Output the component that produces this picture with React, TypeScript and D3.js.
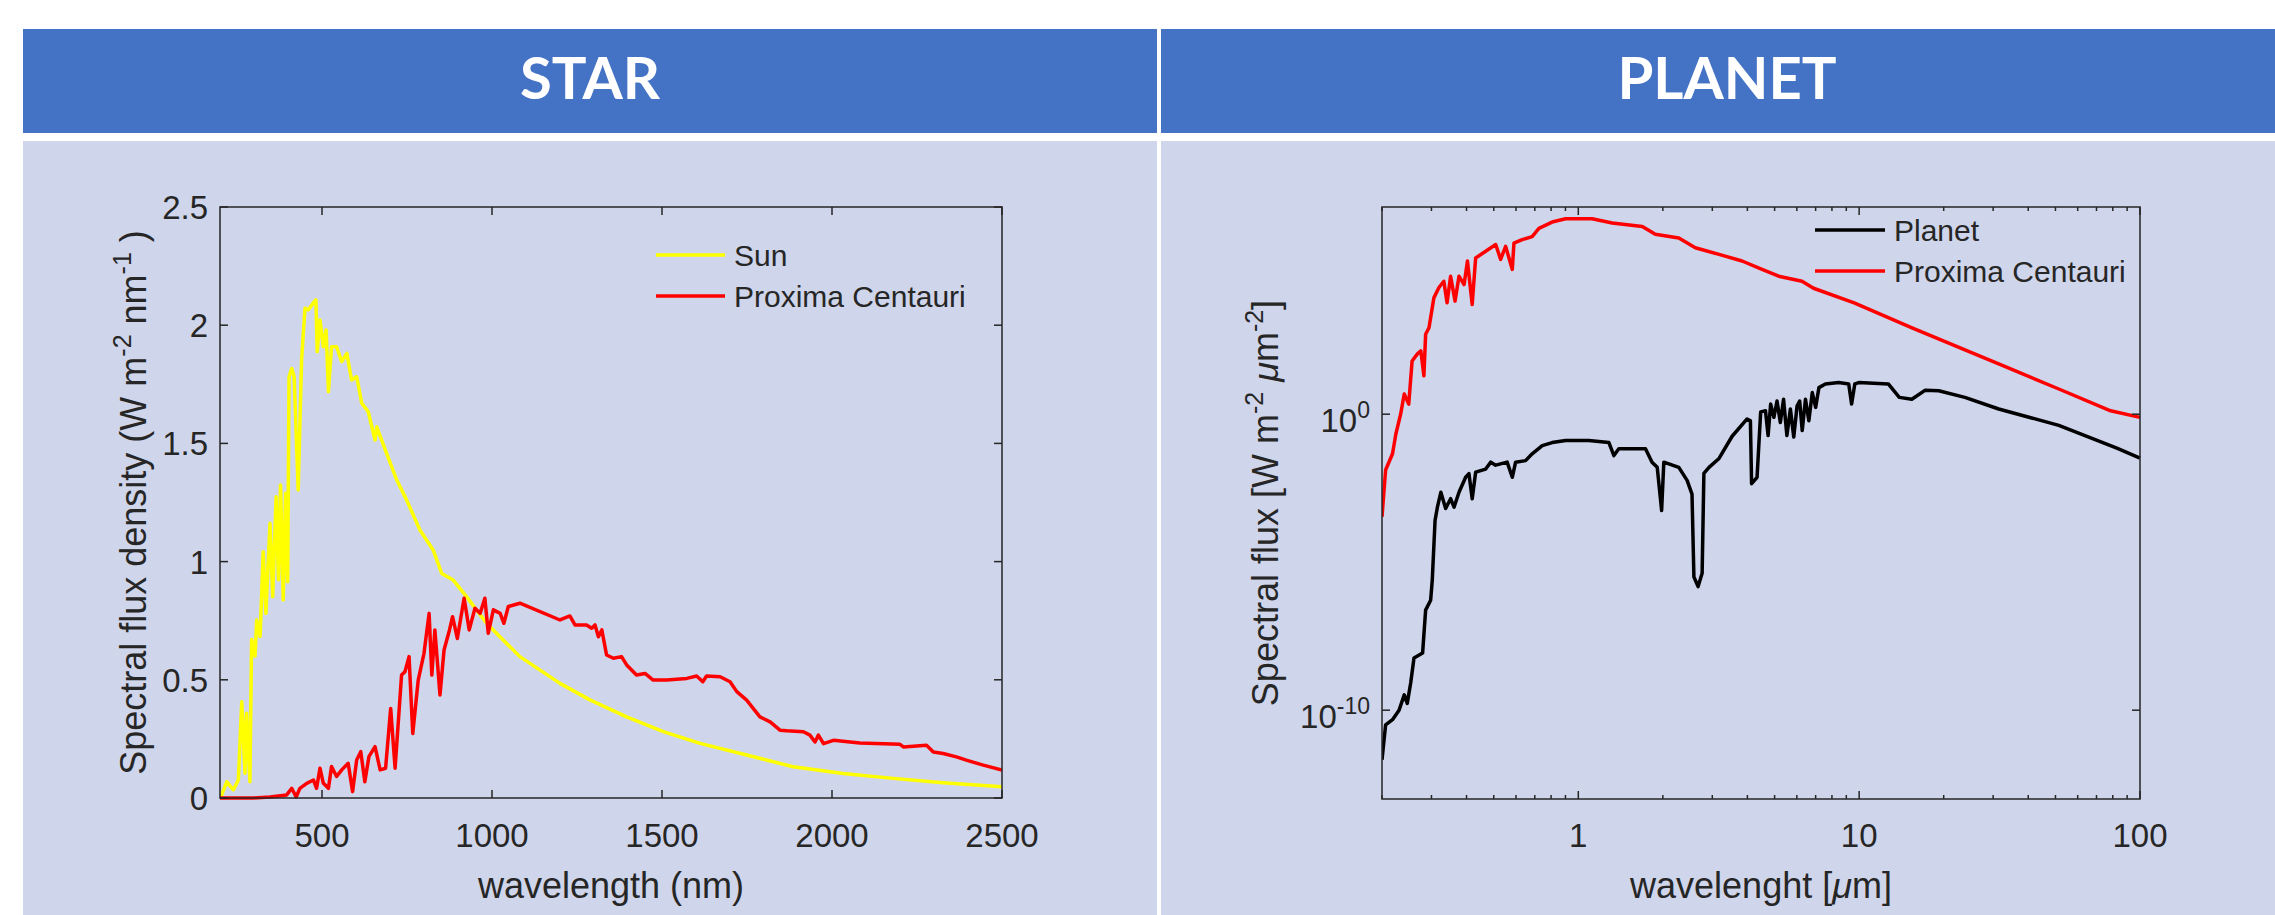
import * as d3 from 'd3';

// ---- data ----
// left panel: spectral flux density (W m-2 nm-1) vs wavelength in nm
const sunWavelength = [200, 205, 220, 239, 254, 264, 273.5, 278, 288, 293, 303, 308, 318, 327, 335, 347, 355, 365, 372, 378, 386, 393, 399, 403, 411, 418, 430, 440, 450, 460, 474, 482, 486, 494, 504, 512, 519, 528, 543, 558, 573, 587, 602, 617, 636, 656, 661, 690, 720, 749, 788, 827, 852, 886, 925, 984, 1043, 1082, 1200, 1288, 1396, 1504, 1612, 1749, 1886, 2033, 2180, 2327, 2500];
const sunFlux = [0, 0.013, 0.069, 0.034, 0.076, 0.407, 0.105, 0.358, 0.069, 0.67, 0.6, 0.753, 0.683, 1.042, 0.781, 1.162, 0.852, 1.274, 0.923, 1.324, 0.838, 1.289, 0.915, 1.782, 1.817, 1.782, 1.303, 1.853, 2.072, 2.065, 2.093, 2.107, 1.888, 2.022, 1.909, 1.98, 1.719, 1.909, 1.909, 1.846, 1.881, 1.768, 1.782, 1.67, 1.634, 1.514, 1.57, 1.458, 1.345, 1.26, 1.134, 1.049, 0.95, 0.922, 0.852, 0.739, 0.654, 0.598, 0.485, 0.415, 0.343, 0.281, 0.231, 0.182, 0.132, 0.104, 0.083, 0.065, 0.048];

const proximaNm = [200, 298, 347, 396, 411, 424, 435, 455, 475, 484, 494, 504, 519, 528, 543, 558, 577, 590, 602, 614, 626, 638, 656, 671, 687, 702, 715, 734, 744, 756, 767, 783, 800, 815, 823, 832, 847, 859, 875, 884, 898, 918, 933, 950, 965, 979, 989, 1004, 1024, 1035, 1048, 1082, 1200, 1229, 1244, 1278, 1293, 1303, 1313, 1323, 1337, 1357, 1381, 1396, 1425, 1450, 1474, 1514, 1573, 1602, 1620, 1631, 1671, 1700, 1720, 1749, 1788, 1818, 1847, 1867, 1916, 1935, 1950, 1960, 1975, 2004, 2082, 2200, 2210, 2278, 2298, 2327, 2366, 2395, 2445, 2500];
const proximaFluxNm = [0, 0, 0.004, 0.013, 0.041, 0.004, 0.041, 0.062, 0.076, 0.041, 0.126, 0.062, 0.041, 0.133, 0.091, 0.119, 0.147, 0.027, 0.161, 0.196, 0.069, 0.175, 0.217, 0.119, 0.126, 0.379, 0.126, 0.52, 0.534, 0.598, 0.273, 0.499, 0.612, 0.781, 0.52, 0.711, 0.436, 0.626, 0.711, 0.767, 0.675, 0.845, 0.711, 0.803, 0.781, 0.845, 0.697, 0.796, 0.781, 0.739, 0.81, 0.824, 0.753, 0.77, 0.732, 0.732, 0.718, 0.732, 0.682, 0.711, 0.605, 0.591, 0.598, 0.563, 0.52, 0.527, 0.499, 0.499, 0.506, 0.516, 0.492, 0.516, 0.513, 0.492, 0.45, 0.414, 0.343, 0.322, 0.287, 0.284, 0.28, 0.266, 0.237, 0.266, 0.23, 0.244, 0.233, 0.227, 0.216, 0.223, 0.195, 0.188, 0.174, 0.16, 0.139, 0.118];

// right panel: spectral flux (W m-2 um-2) vs wavelength in micrometres (log-log)
const planetUm = [0.2, 0.206, 0.218, 0.23, 0.24, 0.246, 0.253, 0.26, 0.279, 0.286, 0.298, 0.302, 0.309, 0.315, 0.324, 0.337, 0.351, 0.361, 0.376, 0.397, 0.408, 0.419, 0.431, 0.468, 0.488, 0.508, 0.558, 0.582, 0.598, 0.649, 0.685, 0.744, 0.807, 0.901, 1.09, 1.285, 1.339, 1.394, 1.735, 1.83, 1.91, 1.98, 2.016, 2.28, 2.44, 2.54, 2.58, 2.67, 2.76, 2.8, 2.92, 3.17, 3.53, 3.99, 4.1, 4.14, 4.33, 4.46, 4.64, 4.74, 4.84, 4.97, 5.1, 5.24, 5.38, 5.53, 5.69, 5.85, 6.01, 6.14, 6.27, 6.44, 6.62, 6.81, 7.0, 7.19, 7.58, 8.45, 9.18, 9.4, 9.65, 9.97, 12.7, 13.9, 15.4, 17.2, 19.2, 23.8, 31.4, 51.4, 82.7, 100];
const planetFlux = [2.1e-12, 3.2e-11, 4.8e-11, 1.0e-10, 3.3e-10, 1.7e-10, 8.3e-10, 5.8e-9, 8.5e-9, 2.4e-7, 5.2e-7, 2.5e-6, 2.6e-4, 7.2e-4, 2.3e-3, 6.5e-4, 1.4e-3, 7.2e-4, 2.3e-3, 7.4e-3, 9.8e-3, 1.4e-3, 1.1e-2, 1.4e-2, 2.4e-2, 1.9e-2, 2.4e-2, 7.4e-3, 2.4e-2, 2.7e-2, 4.6e-2, 8.7e-2, 0.11, 0.13, 0.13, 0.11, 4e-2, 6.8e-2, 6.8e-2, 2.4e-2, 1.6e-2, 5.6e-4, 2.4e-2, 1.6e-2, 5.8e-3, 2e-3, 3.2e-6, 1.5e-6, 4.2e-6, 1e-2, 1.6e-2, 3.2e-2, 0.18, 0.69, 0.6, 4.5e-3, 7.4e-3, 1.2, 1.3, 0.19, 2.2, 0.78, 2.8, 0.52, 3.2, 0.19, 1.5, 0.17, 1.9, 2.8, 0.28, 3.2, 0.6, 5.4, 1.7, 7.9, 10.5, 11.7, 10.5, 2.2, 10.5, 11.7, 10.5, 3.7, 3.2, 6.5, 6.2, 3.7, 1.5, 0.42, 7.2e-2, 3.3e-2];

const proximaUm = [0.2, 0.206, 0.218, 0.224, 0.233, 0.24, 0.249, 0.256, 0.267, 0.275, 0.282, 0.286, 0.294, 0.306, 0.319, 0.332, 0.341, 0.351, 0.364, 0.376, 0.392, 0.403, 0.419, 0.431, 0.468, 0.508, 0.529, 0.551, 0.582, 0.59, 0.631, 0.685, 0.724, 0.807, 0.901, 1.12, 1.32, 1.69, 1.88, 2.28, 2.61, 3.17, 3.83, 4.51, 5.17, 6.26, 6.88, 9.6, 15.5, 31.7, 51.4, 78.6, 100];
const proximaFluxUm = [3.4e-4, 1.3e-2, 4.6e-2, 0.21, 1, 4.8, 2.2, 63, 107, 138, 20, 500, 830, 8.5e3, 1.9e4, 3.1e4, 5.8e3, 4.6e4, 6.6e3, 4.6e4, 2.4e4, 1.5e5, 5.1e3, 1.9e5, 3.2e5, 5.4e5, 1.7e5, 4.7e5, 7.8e4, 6e5, 7.9e5, 1e6, 1.9e6, 3.1e6, 4e6, 4e6, 2.9e6, 2.2e6, 1.2e6, 8.9e5, 4.2e5, 2.5e5, 1.5e5, 7.8e4, 4.6e4, 3.1e4, 1.8e4, 5.8e3, 810, 48, 7.1, 1.3, 0.78];

const starXTicks = [500, 1000, 1500, 2000, 2500];
const starYTicks = [0, 0.5, 1, 1.5, 2, 2.5];
const planetXTicks = [1, 10, 100];
const planetYTicks = [1e0, 1e-10];
const planetYExp = ['0', '-10'];

const starLegend = ['Sun', 'Proxima Centauri'];
const planetLegend = ['Planet', 'Proxima Centauri'];

const FONT = '"Liberation Sans", Arial, Helvetica, sans-serif';
const INK = '#262626';
const LW = 3.5;

const StarChart = () => {
  const L = 220, R = 1002, T = 207, B = 798;
  const x = d3.scaleLinear().domain([200, 2500]).range([L, R]);
  const y = d3.scaleLinear().domain([0, 2.5]).range([B, T]);
  const line = d3.line<[number, number]>().x((d) => x(d[0])).y((d) => y(d[1]));
  const sun = d3.zip(sunWavelength, sunFlux) as [number, number][];
  const prox = d3.zip(proximaNm, proximaFluxNm) as [number, number][];

  return (
    <g fontFamily={FONT} fill={INK}>
      <clipPath id="clipStar">
        <rect x={L} y={T - 2} width={R - L} height={B - T + 4} />
      </clipPath>
      <g clipPath="url(#clipStar)" fill="none" strokeWidth={LW} strokeLinejoin="round">
        <path d={line(sun) || ''} stroke="#FFFF00" />
        <path d={line(prox) || ''} stroke="#FF0000" />
      </g>
      <rect x={L} y={T} width={R - L} height={B - T} fill="none" stroke={INK} strokeWidth={1.5} />
      {starXTicks.map((t) => (
        <g key={'x' + t}>
          <line x1={x(t)} x2={x(t)} y1={B} y2={B - 8} stroke={INK} strokeWidth={1.5} />
          <line x1={x(t)} x2={x(t)} y1={T} y2={T + 8} stroke={INK} strokeWidth={1.5} />
          <text x={x(t)} y={847} textAnchor="middle" fontSize={33}>{t}</text>
        </g>
      ))}
      {starYTicks.map((t) => (
        <g key={'y' + t}>
          <line x1={L} x2={L + 8} y1={y(t)} y2={y(t)} stroke={INK} strokeWidth={1.5} />
          <line x1={R} x2={R - 8} y1={y(t)} y2={y(t)} stroke={INK} strokeWidth={1.5} />
          <text x={208} y={y(t) + 12} textAnchor="end" fontSize={33}>{t}</text>
        </g>
      ))}
      <text x={(L + R) / 2} y={898} textAnchor="middle" fontSize={36}>wavelength (nm)</text>
      <text transform={`translate(146,${(T + B) / 2}) rotate(-90)`} textAnchor="middle" fontSize={36}>
        Spectral flux density (W m<tspan dy={-15} fontSize={25}>-2</tspan>
        <tspan dy={15}> nm</tspan><tspan dy={-15} fontSize={25}>-1</tspan>
        <tspan dy={15}> )</tspan>
      </text>
      {starLegend.map((s, i) => (
        <g key={s}>
          <line x1={656} x2={725} y1={255 + i * 41} y2={255 + i * 41} stroke={i === 0 ? '#FFFF00' : '#FF0000'} strokeWidth={LW} />
          <text x={734} y={255 + i * 41 + 11} fontSize={30}>{s}</text>
        </g>
      ))}
    </g>
  );
};

const PlanetChart = () => {
  const L = 1382, R = 2140, T = 207, B = 799;
  const x = d3.scaleLog().domain([0.2, 100]).range([L, R]);
  const y = d3.scaleLog().domain([1e-13, 1e7]).range([B, T]);
  const line = d3.line<[number, number]>().x((d) => x(d[0])).y((d) => y(d[1]));
  const planet = d3.zip(planetUm, planetFlux) as [number, number][];
  const prox = d3.zip(proximaUm, proximaFluxUm) as [number, number][];
  const minor = x.ticks().filter((t) => !planetXTicks.includes(t));

  return (
    <g fontFamily={FONT} fill={INK}>
      <clipPath id="clipPlanet">
        <rect x={L} y={T} width={R - L + 2} height={B - T} />
      </clipPath>
      <g clipPath="url(#clipPlanet)" fill="none" strokeWidth={LW} strokeLinejoin="round">
        <path d={line(planet) || ''} stroke="#000000" />
        <path d={line(prox) || ''} stroke="#FF0000" />
      </g>
      <rect x={L} y={T} width={R - L} height={B - T} fill="none" stroke={INK} strokeWidth={1.5} />
      {minor.map((t) => (
        <g key={'m' + t}>
          <line x1={x(t)} x2={x(t)} y1={B} y2={B - 4} stroke={INK} strokeWidth={1.5} />
          <line x1={x(t)} x2={x(t)} y1={T} y2={T + 4} stroke={INK} strokeWidth={1.5} />
        </g>
      ))}
      {planetXTicks.map((t) => (
        <g key={'x' + t}>
          <line x1={x(t)} x2={x(t)} y1={B} y2={B - 8} stroke={INK} strokeWidth={1.5} />
          <line x1={x(t)} x2={x(t)} y1={T} y2={T + 8} stroke={INK} strokeWidth={1.5} />
          <text x={x(t)} y={847} textAnchor="middle" fontSize={33}>{t}</text>
        </g>
      ))}
      {planetYTicks.map((t, i) => (
        <g key={'y' + i}>
          <line x1={L} x2={L + 8} y1={y(t)} y2={y(t)} stroke={INK} strokeWidth={1.5} />
          <line x1={R} x2={R - 8} y1={y(t)} y2={y(t)} stroke={INK} strokeWidth={1.5} />
          <text x={1370} y={y(t) + 18} textAnchor="end" fontSize={33}>
            10<tspan dy={-14} fontSize={23}>{planetYExp[i]}</tspan>
          </text>
        </g>
      ))}
      <text x={(L + R) / 2} y={898} textAnchor="middle" fontSize={36}>
        wavelenght [<tspan fontStyle="italic">μ</tspan>m]
      </text>
      <text transform={`translate(1278,${(T + B) / 2}) rotate(-90)`} textAnchor="middle" fontSize={36}>
        Spectral flux [W m<tspan dy={-15} fontSize={25}>-2</tspan>
        <tspan dy={15}>  </tspan><tspan fontStyle="italic">μ</tspan>m<tspan dy={-15} fontSize={25}>-2</tspan>
        <tspan dy={15}>]</tspan>
      </text>
      {planetLegend.map((s, i) => (
        <g key={s}>
          <line x1={1815} x2={1885} y1={230 + i * 41} y2={230 + i * 41} stroke={i === 0 ? '#000000' : '#FF0000'} strokeWidth={LW} />
          <text x={1894} y={230 + i * 41 + 11} fontSize={30}>{s}</text>
        </g>
      ))}
    </g>
  );
};

export default function App() {
  return (
    <svg width={2275} height={915} style={{ position: 'absolute', left: 0, top: 0, background: '#ffffff' }}>
      <rect x={0} y={0} width={2275} height={915} fill="#ffffff" />
      {/* table: header row and body row, split into two columns */}
      <rect x={23} y={29} width={2270} height={104} fill="#4472C4" />
      <rect x={23} y={141} width={2270} height={774} fill="#CFD5EA" />
      <rect x={1157} y={29} width={4} height={886} fill="#ffffff" />
      <text x={590} y={99} textAnchor="middle" fill="#ffffff" fontFamily="Lato, 'Open Sans', sans-serif" fontWeight={700} fontSize={58}>STAR</text>
      <text x={1727} y={99} textAnchor="middle" fill="#ffffff" fontFamily="Lato, 'Open Sans', sans-serif" fontWeight={700} fontSize={58}>PLANET</text>
      <StarChart />
      <PlanetChart />
    </svg>
  );
}
